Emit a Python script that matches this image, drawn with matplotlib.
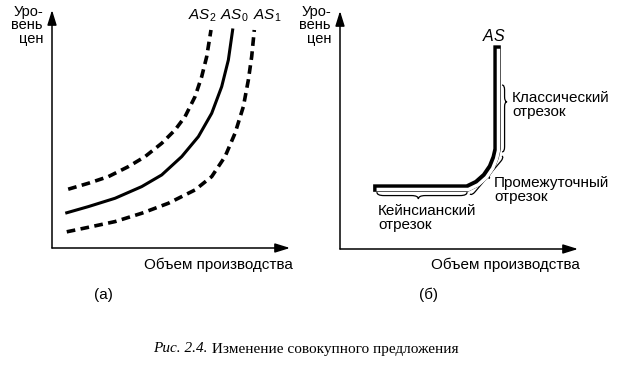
import numpy as np
import matplotlib
matplotlib.use('Agg')
import matplotlib.pyplot as plt
from matplotlib.path import Path
from matplotlib.patches import PathPatch
from matplotlib.transforms import offset_copy

plt.rcParams['font.family'] = ['Liberation Sans', 'DejaVu Sans']
plt.rcParams['mathtext.fontset'] = 'custom'
plt.rcParams['mathtext.rm'] = 'Liberation Sans'
plt.rcParams['mathtext.it'] = 'Liberation Sans:italic'

W, H = 623, 369

# (а) shifts of aggregate supply, output vs price level (0..100 units)
as2_x = [6.8, 15.3, 23.7, 32.1, 39.1, 46.1, 51.7, 55.9, 60.1, 62.9, 65.0, 66.8]
as2_y = [24.7, 27.2, 30.0, 34.2, 38.4, 44.0, 49.6, 55.2, 63.6, 72.0, 80.4, 91.6]
as0_x = [6.2, 15.3, 26.5, 37.7, 46.1, 54.5, 61.5, 67.1, 71.3, 74.1, 75.9]
as0_y = [14.8, 17.4, 20.9, 25.8, 30.7, 38.4, 46.8, 56.6, 67.8, 79.0, 91.6]
as1_x = [6.2, 15.3, 26.5, 37.7, 48.9, 60.1, 67.1, 72.7, 76.9, 80.4, 82.5, 83.9, 85.0]
as1_y = [6.8, 8.7, 11.1, 14.6, 18.8, 24.4, 30.0, 38.4, 48.2, 59.4, 70.6, 80.4, 91.6]
curve_labels = [r'$AS_2$', r'$AS_0$', r'$AS_1$']

# (б) AS curve with three segments
as_x = [15.5, 53.4, 57.5, 61.0, 63.6, 65.2, 66.0, 66.0]
as_y = [25.6, 25.6, 27.6, 30.7, 34.5, 38.5, 42.0, 84.0]
# brace ends (start, end), tip position along it, depth
brace_keynes = ((15.5, 23.9), (53.4, 23.9), 0.46, 2.9)
brace_inter = ((54.6, 23.1), (68.1, 39.1), 0.5, 2.1)
brace_classic = ((68.1, 40.8), (68.1, 68.9), 0.75, 2.1)

y_label = 'Уро-\nвень\nцен'
x_label = 'Объем производства'


def px(x, y):
    return x / W, 1 - y / H


def axes_at(left, top, right, bottom):
    a = fig.add_axes([left / W, 1 - bottom / H, (right - left) / W, (bottom - top) / H])
    a.set_xlim(0, 100)
    a.set_ylim(0, 100)
    a.set_axis_off()
    aprops = dict(arrowstyle='-|>,head_length=0.9,head_width=0.28', lw=1.1,
                  color='k', shrinkA=0, shrinkB=0)
    a.annotate('', xy=(0, 1), xytext=(0, 0), xycoords='axes fraction', arrowprops=aprops)
    a.annotate('', xy=(1, 0), xytext=(0, 0), xycoords='axes fraction', arrowprops=aprops)
    return a


def brace(a, p0, p1, t, d):
    p0 = np.array(p0, float)
    p1 = np.array(p1, float)
    L = np.linalg.norm(p1 - p0)
    e = (p1 - p0) / L
    n = np.array([e[1], -e[0]])
    r = min(d, t * L / 2, (1 - t) * L / 2)
    tl = t * L
    local = [(0, 0), (0, d / 2), (r, d / 2), (tl - r, d / 2), (tl, d / 2), (tl, d),
             (tl, d / 2), (tl + r, d / 2), (L - r, d / 2), (L, d / 2), (L, 0)]
    codes = [Path.MOVETO, Path.CURVE3, Path.CURVE3, Path.LINETO, Path.CURVE3, Path.CURVE3,
             Path.CURVE3, Path.CURVE3, Path.LINETO, Path.CURVE3, Path.CURVE3]
    verts = [p0 + u * e + v * n for u, v in local]
    a.add_patch(PathPatch(Path(verts, codes), fill=False, lw=0.9, ec='k', clip_on=False))


fig = plt.figure(figsize=(W / 100, H / 100), dpi=100)

# panel (а)
ax1 = axes_at(52, 10, 290, 248)
dash = dict(color='k', lw=2.6, dashes=(2.4, 1.5), clip_on=False)
ax1.plot(as2_x, as2_y, **dash)
ax1.plot(as0_x, as0_y, color='k', lw=2.2, clip_on=False)
ax1.plot(as1_x, as1_y, **dash)
for lab, cx in zip(curve_labels, [202, 234, 267]):
    fig.text(*px(cx, 16), lab, ha='center', va='center', fontsize=11)
fig.text(*px(43, 5), y_label, ha='right', va='top', fontsize=10.5, linespacing=0.95)
fig.text(*px(218, 265), x_label, ha='center', va='center', fontsize=11)
fig.text(*px(103, 295), '(а)', ha='center', va='center', fontsize=11)

# panel (б)
ax2 = axes_at(340, 11, 578, 249)
ax2.plot(as_x, as_y, color='k', lw=5.4, solid_joinstyle='round', clip_on=False)
inner = offset_copy(ax2.transData, fig=fig, x=1.4, y=-1.4, units='dots')
ax2.plot(as_x, as_y, color='white', lw=2.5, transform=inner, clip_on=False)
for p0, p1, t, d in [brace_keynes, brace_inter, brace_classic]:
    brace(ax2, p0, p1, t, d)
fig.text(*px(494, 36), r'$AS$', ha='center', va='center', fontsize=11.5)
fig.text(*px(512, 105), 'Классический\nотрезок', ha='left', va='center',
         fontsize=11, linespacing=1.0)
fig.text(*px(494, 190), 'Промежуточный\nотрезок', ha='left', va='center',
         fontsize=11, linespacing=1.0)
fig.text(*px(378, 218), 'Кейнсианский\nотрезок', ha='left', va='center',
         fontsize=11, linespacing=1.0)
fig.text(*px(331, 5), y_label, ha='right', va='top', fontsize=10.5, linespacing=0.95)
fig.text(*px(505, 265), x_label, ha='center', va='center', fontsize=11)
fig.text(*px(428, 295), '(б)', ha='center', va='center', fontsize=11)

# caption
cap = fig.text(*px(153, 349), 'Рис. 2.4.', ha='left', va='center', fontsize=11,
               family='Liberation Serif', style='italic')
ax2.annotate(' Изменение совокупного предложения', xy=(1, 0), xycoords=cap, ha='left',
             va='bottom', fontsize=11, family='Liberation Serif', annotation_clip=False)

fig.savefig('out.png', dpi=100)
